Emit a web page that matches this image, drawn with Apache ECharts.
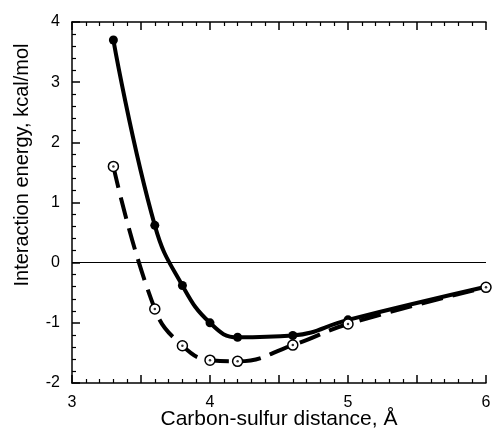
<!DOCTYPE html>
<html>
<head>
<meta charset="utf-8">
<script src="https://cdn.jsdelivr.net/npm/echarts@6/dist/echarts.min.js"></script>
<style>
  html, body { margin: 0; padding: 0; background: #fff; }
  #chart { width: 492px; height: 431px; }
</style>
</head>
<body>
<div id="chart"></div>
<script>
// distance (Å) of each computed point
var distances = [3.3, 3.6, 3.8, 4.0, 4.2, 4.6, 5.0, 6.0];
// filled circles, solid curve
var energySolid = [3.7, 0.62, -0.38, -1.0, -1.24, -1.21, -0.95, -0.4];
// open circles, dashed curve
var energyDashed = [1.6, -0.77, -1.38, -1.62, -1.64, -1.37, -1.02, -0.41];

var xTicks = [3, 4, 5, 6];
var yTicks = [-2, -1, 0, 1, 2, 3, 4];

function pairs(ys) {
    var out = [];
    for (var i = 0; i < distances.length; i++) {
        out.push([distances[i], ys[i]]);
    }
    return out;
}

var chart = echarts.init(document.getElementById('chart'));
var font = '"Liberation Sans", Arial, sans-serif';

// ticks point into the plot
function tick() {
    return { show: true, inside: true, length: 8, lineStyle: { color: '#000', width: 1.5 } };
}
function minor() {
    return { show: true, splitNumber: 5, length: 4, lineStyle: { color: '#000', width: 1.2 } };
}

var option = {
    backgroundColor: '#fff',
    animation: false,
    grid: { left: 72, right: 6, top: 22, bottom: 48, outerBoundsMode: 'none', containLabel: false },
    xAxis: [{
        type: 'value',
        min: xTicks[0],
        max: xTicks[xTicks.length - 1],
        interval: 0.5,
        name: 'Carbon-sulfur distance, Å',
        nameLocation: 'middle',
        nameGap: 26,
        nameMoveOverlap: false,
        nameTextStyle: { fontFamily: font, fontSize: 21, color: '#000', verticalAlign: 'top' },
        axisLine: { show: true, onZero: false, lineStyle: { color: '#000', width: 1.5 } },
        axisTick: tick(),
        minorTick: minor(),
        axisLabel: {
            margin: 12, fontFamily: font, fontSize: 16, color: '#000',
            formatter: function (v) { return xTicks.indexOf(v) >= 0 ? String(v) : ''; }
        },
        splitLine: { show: false }
    }, {
        type: 'value',
        position: 'top',
        min: xTicks[0],
        max: xTicks[xTicks.length - 1],
        interval: 0.5,
        axisLine: { show: true, onZero: false, lineStyle: { color: '#000', width: 1.5 } },
        axisTick: tick(),
        minorTick: minor(),
        axisLabel: { show: false },
        splitLine: { show: false }
    }],
    yAxis: {
        type: 'value',
        min: yTicks[0],
        max: yTicks[yTicks.length - 1],
        interval: 1,
        axisLine: { show: true, onZero: false, lineStyle: { color: '#000', width: 1.5 } },
        axisTick: tick(),
        minorTick: minor(),
        axisLabel: { margin: 12, fontFamily: font, fontSize: 16, color: '#000' },
        splitLine: { show: false }
    },
    graphic: [{
        type: 'text',
        x: 22,
        y: 165,
        rotation: Math.PI / 2,
        style: {
            text: 'Interaction energy, kcal/mol',
            font: '20px ' + font,
            fill: '#000',
            align: 'center',
            verticalAlign: 'middle'
        }
    }],
    series: [{
        name: 'solid',
        type: 'line',
        smooth: 0.45,
        data: pairs(energySolid),
        symbol: 'circle',
        symbolSize: 9,
        itemStyle: { color: '#000' },
        lineStyle: { color: '#000', width: 4 },
        z: 3,
        markLine: {
            silent: true,
            symbol: 'none',
            label: { show: false },
            lineStyle: { color: '#000', type: 'solid', width: 1 },
            data: [{ yAxis: 0 }],
            z: 1
        }
    }, {
        name: 'dashed',
        type: 'line',
        smooth: 0.45,
        data: pairs(energyDashed),
        symbol: 'circle',
        symbolSize: 10,
        itemStyle: { color: '#fff', borderColor: '#000', borderWidth: 1.5 },
        lineStyle: { color: '#000', width: 4, type: [22, 10] },
        z: 4
    }, {
        name: 'dots',
        type: 'scatter',
        data: pairs(energyDashed),
        symbol: 'circle',
        symbolSize: 2.5,
        itemStyle: { color: '#000' },
        silent: true,
        z: 5
    }]
};

chart.setOption(option);
</script>
</body>
</html>
